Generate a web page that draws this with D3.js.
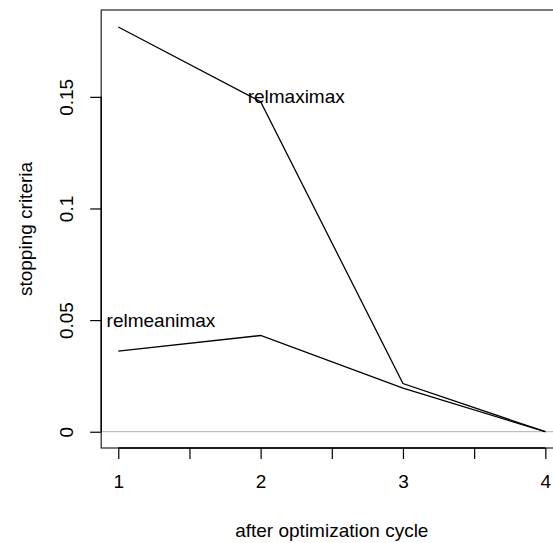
<!DOCTYPE html>
<html><head><meta charset="utf-8">
<script src="https://cdn.jsdelivr.net/npm/d3@7"></script>
<style>html,body{margin:0;padding:0;background:#fff;}svg{display:block;font-family:"Liberation Sans",Arial,Helvetica,sans-serif;}</style>
</head><body>
<script>
const cycles = [1, 2, 3, 4];
const relmaximax = [0.1813, 0.1478, 0.0216, 0.0];
const relmeanimax = [0.0361, 0.0431, 0.0195, 0.0];
const xTicks = [1, 1.5, 2, 2.5, 3, 3.5, 4];
const xTickLabels = ["1", "", "2", "", "3", "", "4"];
const yTicks = [0, 0.05, 0.1, 0.15];
const yTickLabels = ["0", "0.05", "0.1", "0.15"];
const seriesLabels = [
  {text: "relmaximax", x: 2.25, y: 0.15},
  {text: "relmeanimax", x: 1.3, y: 0.05}
];

const W = 553, H = 543;
const svg = d3.select("body").append("svg").attr("width", W).attr("height", H);
const x = d3.scaleLinear().domain([0.88, 4.12]).range([101.2, 562.4]);
const y = d3.scaleLinear().domain([-0.00729, 0.1889]).range([448, 10]);
const fs = 19;

// zero reference line
svg.append("line").attr("x1", x(0.88)).attr("x2", x(4.12)).attr("y1", y(0)).attr("y2", y(0))
  .attr("stroke", "#bebebe").attr("stroke-width", 1.2);

// box
svg.append("rect").attr("x", x(0.88)).attr("y", y(0.1889)).attr("width", x(4.12) - x(0.88)).attr("height", y(-0.00729) - y(0.1889))
  .attr("fill", "none").attr("stroke", "#222").attr("stroke-width", 1.2);

const line = d3.line().x(d => x(d[0])).y(d => y(d[1]));
[relmaximax, relmeanimax].forEach(s => {
  svg.append("path").datum(cycles.map((c, i) => [c, s[i]])).attr("d", line)
    .attr("fill", "none").attr("stroke", "#000").attr("stroke-width", 1.3);
});

seriesLabels.forEach(l => {
  svg.append("text").attr("x", x(l.x)).attr("y", y(l.y)).attr("text-anchor", "middle")
    .attr("dominant-baseline", "central").attr("font-size", fs).attr("fill", "#000").text(l.text);
});

// x axis
const xa = svg.append("g").attr("transform", `translate(0,${y(-0.00729)})`)
  .call(d3.axisBottom(x).tickValues(xTicks).tickSize(11).tickPadding(16)
    .tickFormat((d, i) => xTickLabels[i]));
xa.select(".domain").attr("d", `M${x(1)},0H${x(4)}`).attr("stroke-width", 1.3);
xa.selectAll(".tick line").attr("stroke-width", 1.2);
xa.selectAll("text").attr("font-size", fs).attr("font-family", null).attr("fill", "#000");

// y axis
const ya = svg.append("g").attr("transform", `translate(${x(0.88)},0)`)
  .call(d3.axisLeft(y).tickValues(yTicks).tickSize(11).tickFormat((d, i) => yTickLabels[i]));
ya.select(".domain").attr("d", `M0,${y(0)}V${y(0.15)}`).attr("stroke-width", 1.3);
ya.selectAll(".tick line").attr("stroke-width", 1.2);
ya.selectAll("text").remove();
ya.selectAll(".tick").append("text").attr("transform", "translate(-35,0) rotate(-90)")
  .attr("text-anchor", "middle").attr("dominant-baseline", "central")
  .attr("font-size", fs).attr("fill", "#000").text((d, i) => yTickLabels[i]);

// axis titles
svg.append("text").attr("x", (x(0.88) + x(4.12)) / 2).attr("y", 530).attr("text-anchor", "middle")
  .attr("dominant-baseline", "central").attr("font-size", fs).text("after optimization cycle");
svg.append("text").attr("transform", `translate(25,${(y(0.1889) + y(-0.00729)) / 2}) rotate(-90)`)
  .attr("text-anchor", "middle").attr("dominant-baseline", "central").attr("font-size", fs).text("stopping criteria");
</script>
</body></html>
